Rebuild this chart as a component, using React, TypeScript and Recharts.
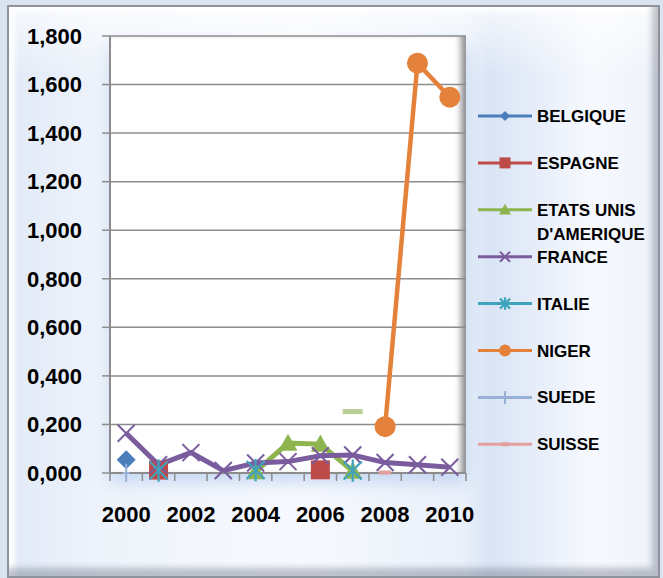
import React from 'react';
import { LineChart, Line, XAxis, YAxis, CartesianGrid, Legend } from 'recharts';

const years = ['2000', '2001', '2002', '2003', '2004', '2005', '2006', '2007', '2008', '2009', '2010'];

const belgique = [0.055, null, null, null, null, null, null, null, null, null, null];
const espagne = [null, 0.012, null, null, null, null, 0.013, null, null, null, null];
const etatsUnis = [null, null, null, null, 0.006, 0.123, 0.119, 0.008, null, null, null];
const france = [0.164, 0.034, 0.084, 0.01, 0.041, 0.047, 0.071, 0.074, 0.043, 0.034, 0.024];
const italie = [null, 0.01, null, null, 0.012, null, null, 0.01, null, null, null];
const niger = [null, null, null, null, null, null, null, null, 0.191, 1.688, 1.548];
const suede = [0.0, null, null, null, null, null, null, null, null, null, null];
const suisse = [null, null, null, null, null, null, null, null, 0.002, null, null];
const extra = [null, null, null, null, null, null, null, 0.253, null, null, null];

const yTicks = [0, 0.2, 0.4, 0.6, 0.8, 1.0, 1.2, 1.4, 1.6, 1.8];

type Kind = 'diamond' | 'square' | 'triangle' | 'x' | 'star' | 'circle' | 'plus' | 'dash' | 'bigdash';

const series: { key: string; label: string[]; color: string; kind: Kind; width: number; legend: boolean; values: (number | null)[] }[] = [
  { key: 'BELGIQUE', label: ['BELGIQUE'], color: '#4A7EBB', kind: 'diamond', width: 4, legend: true, values: belgique },
  { key: 'ESPAGNE', label: ['ESPAGNE'], color: '#BE4B48', kind: 'square', width: 4, legend: true, values: espagne },
  { key: 'ETATS', label: ['ETATS UNIS', "D'AMERIQUE"], color: '#8EB44F', kind: 'triangle', width: 5, legend: true, values: etatsUnis },
  { key: 'FRANCE', label: ['FRANCE'], color: '#7A5C9E', kind: 'x', width: 5, legend: true, values: france },
  { key: 'ITALIE', label: ['ITALIE'], color: '#3FA3BE', kind: 'star', width: 4, legend: true, values: italie },
  { key: 'NIGER', label: ['NIGER'], color: '#E4813A', kind: 'circle', width: 4.5, legend: true, values: niger },
  { key: 'SUEDE', label: ['SUEDE'], color: '#98AFD6', kind: 'plus', width: 4, legend: true, values: suede },
  { key: 'SUISSE', label: ['SUISSE'], color: '#E3A09E', kind: 'dash', width: 4, legend: true, values: suisse },
  { key: 'EXTRA', label: [''], color: '#B8CE95', kind: 'bigdash', width: 4, legend: false, values: extra },
];

const data = years.map((year, i) => {
  const row: Record<string, string | number | null> = { year };
  series.forEach((s) => {
    row[s.key] = s.values[i];
  });
  return row;
});

const FONT = '"Liberation Sans", Arial, sans-serif';
const PLOT_LEFT = 110;
const PLOT_RIGHT = 466;
const PLOT_TOP = 36;
const PLOT_BOTTOM = 473;
const BW = (PLOT_RIGHT - PLOT_LEFT) / years.length;

function Marker({ kind, color, cx, cy, s }: { kind: Kind; color: string; cx: number; cy: number; s: number }) {
  switch (kind) {
    case 'diamond':
      return <polygon points={`${cx},${cy - s} ${cx + s},${cy} ${cx},${cy + s} ${cx - s},${cy}`} fill={color} />;
    case 'square':
      return <rect x={cx - s} y={cy - s} width={2 * s} height={2 * s} fill={color} />;
    case 'triangle':
      return <polygon points={`${cx},${cy - s} ${cx + s},${cy + s * 0.8} ${cx - s},${cy + s * 0.8}`} fill={color} />;
    case 'x':
      return (
        <g stroke={color} strokeWidth={2}>
          <line x1={cx - s} y1={cy - s} x2={cx + s} y2={cy + s} />
          <line x1={cx - s} y1={cy + s} x2={cx + s} y2={cy - s} />
        </g>
      );
    case 'star':
      return (
        <g stroke={color} strokeWidth={2.2}>
          <line x1={cx - s} y1={cy - s} x2={cx + s} y2={cy + s} />
          <line x1={cx - s} y1={cy + s} x2={cx + s} y2={cy - s} />
          <line x1={cx} y1={cy - s * 1.25} x2={cx} y2={cy + s * 1.25} />
        </g>
      );
    case 'circle':
      return <circle cx={cx} cy={cy} r={s} fill={color} />;
    case 'plus':
      return (
        <g stroke={color} strokeWidth={2}>
          <line x1={cx} y1={cy - s * 1.3} x2={cx} y2={cy + s * 1.3} />
          <line x1={cx - s * 0.5} y1={cy} x2={cx + s * 0.5} y2={cy} />
        </g>
      );
    case 'dash':
      return <rect x={cx - s} y={cy - 2} width={2 * s} height={4} fill={color} />;
    case 'bigdash':
      return <rect x={cx - s} y={cy - 2.5} width={2 * s} height={5} fill={color} />;
  }
  return null;
}

const chartSize: Record<Kind, number> = {
  diamond: 9.5, square: 9.5, triangle: 9.5, x: 8.5, star: 9, circle: 10.5, plus: 7, dash: 6, bigdash: 10,
};
const legendSize: Record<Kind, number> = {
  diamond: 5, square: 5.5, triangle: 6, x: 5, star: 5, circle: 6, plus: 5, dash: 4, bigdash: 5,
};

function makeDot(kind: Kind, color: string) {
  return (props: any) => {
    const { cx, cy, index, value } = props;
    if (cx == null || cy == null || value == null || Number.isNaN(cy)) return <g key={`d-${index}`} />;
    return (
      <g key={`d-${index}`}>
        <Marker kind={kind} color={color} cx={cx} cy={cy} s={chartSize[kind]} />
      </g>
    );
  };
}

const XTick = (props: any) => {
  const { x, y, payload, index } = props;
  const half = BW / 2;
  const yr = Number(payload.value);
  return (
    <g>
      <line x1={x - half} x2={x - half} y1={y} y2={y + 8} stroke="#8c8c8c" strokeWidth={1.5} />
      {index === years.length - 1 && (
        <line x1={x + half} x2={x + half} y1={y} y2={y + 8} stroke="#8c8c8c" strokeWidth={1.5} />
      )}
      {yr % 2 === 0 && (
        <text x={x} y={y + 49} textAnchor="middle" fill="#000" fontFamily={FONT} fontWeight={700} fontSize={22}>
          {payload.value}
        </text>
      )}
    </g>
  );
};

const renderLegend = () => {
  const items = series.filter((s) => s.legend);
  return (
    <svg width={663} height={578} style={{ position: 'absolute', left: 0, top: 0, overflow: 'visible', pointerEvents: 'none' }}>
      {items.map((s, i) => {
        const cy = 116 + i * 46.9;
        return (
          <g key={s.key}>
            <line x1={478} x2={532} y1={cy} y2={cy} stroke={s.color} strokeWidth={3} />
            <Marker kind={s.kind} color={s.color} cx={505} cy={cy} s={legendSize[s.kind]} />
            {s.label.map((t, j) => (
              <text key={j} x={537} y={cy + 6 + j * 24} fill="#000" fontFamily={FONT} fontWeight={700} fontSize={17}>
                {t}
              </text>
            ))}
          </g>
        );
      })}
    </svg>
  );
};

export default function App() {
  return (
    <div style={{ position: 'absolute', left: 0, top: 0, width: 663, height: 578, background: '#dae4f1', overflow: 'hidden' }}>
      <div
        style={{
          position: 'absolute', left: 7, top: 5, width: 653, height: 573, boxSizing: 'border-box',
          border: '2px solid #8e939b',
          background:
            'linear-gradient(180deg, rgba(255,255,255,0.7) 0%, rgba(255,255,255,0) 12%), linear-gradient(90deg, #e1eaf7 0%, #eef3fb 14%, #f7f9fe 45%, #e9f0fa 70%, #d9e4f5 74%, #f7f9fe 90%, #eef2fa 100%)',
          boxShadow: 'inset -6px -8px 6px rgba(80,90,110,0.35), inset 6px 4px 5px rgba(255,255,255,0.95)',
        }}
      />
      <div
        style={{
          position: 'absolute', left: PLOT_LEFT, top: PLOT_TOP, width: PLOT_RIGHT - PLOT_LEFT, height: PLOT_BOTTOM - PLOT_TOP,
          background: '#ffffff',
          boxShadow: 'inset -8px 0 6px -3px rgba(50,50,60,0.55), 0 10px 14px rgba(170,195,235,0.55)',
        }}
      />
      <div style={{ position: 'absolute', left: 0, top: 0 }}>
        <LineChart width={663} height={578} data={data} margin={{ top: PLOT_TOP, right: 663 - PLOT_RIGHT, bottom: 0, left: 0 }}>
          <CartesianGrid horizontal vertical={false} stroke="#8c8c8c" strokeWidth={1.5} />
          <XAxis
            dataKey="year"
            interval={0}
            height={578 - PLOT_BOTTOM}
            padding={{ left: BW / 2, right: BW / 2 }}
            axisLine={{ stroke: '#8c8c8c', strokeWidth: 2 }}
            tickLine={false}
            tickSize={0}
            tickMargin={0}
            tick={XTick}
          />
          <YAxis
            width={PLOT_LEFT}
            domain={[0, 1.8]}
            ticks={yTicks}
            interval={0}
            tickFormatter={(v: number) => v.toFixed(3).replace('.', ',')}
            tick={{ fill: '#000', fontSize: 22, fontWeight: 700, fontFamily: FONT }}
            tickSize={8}
            tickMargin={20}
            axisLine={{ stroke: '#8c8c8c', strokeWidth: 2 }}
            tickLine={{ stroke: '#8c8c8c', strokeWidth: 1.5 }}
          />
          <Legend
            content={renderLegend}
            wrapperStyle={{ position: 'absolute', left: 0, top: 0, width: 0, height: 0, overflow: 'visible' }}
          />
          {series.map((s) => (
            <Line
              key={s.key}
              dataKey={s.key}
              name={s.label.join(' ')}
              stroke={s.color}
              strokeWidth={s.width}
              dot={makeDot(s.kind, s.color)}
              activeDot={false}
              connectNulls={false}
              isAnimationActive={false}
              legendType={s.legend ? 'line' : 'none'}
            />
          ))}
        </LineChart>
      </div>
    </div>
  );
}
